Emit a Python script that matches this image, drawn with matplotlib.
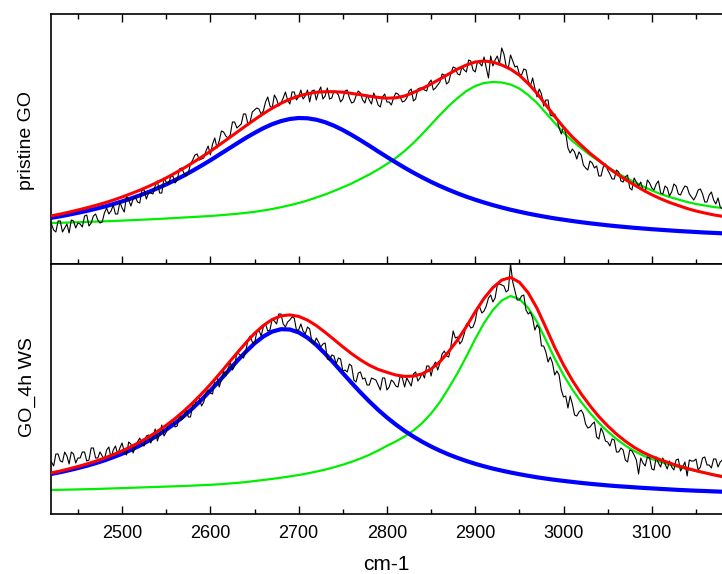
import numpy as np
import matplotlib
matplotlib.use("Agg")
import matplotlib.pyplot as plt

plt.rcParams['font.family'] = ['Liberation Sans', 'DejaVu Sans']

# Raman shift grids (cm-1)
wn_fit = np.arange(2420, 3181, 10)
wn_raw = np.arange(2420, 3181, 2.5)

# ---- pristine GO ----
# fitted bands and envelope (a.u.), every 10 cm-1
top_blue = [46.2, 47.7, 49.4, 51.2, 53.1, 55.2, 57.4, 59.9, 62.6, 65.5,
            68.6, 72.0, 75.7, 79.6, 83.9, 88.4, 93.3, 98.4, 103.7, 109.3,
            114.9, 120.5, 126.0, 131.1, 135.8, 139.8, 142.9, 145.0, 146.0, 145.7,
            144.3, 141.8, 138.3, 134.0, 129.1, 123.8, 118.3, 112.6, 107.0, 101.6,
            96.3, 91.3, 86.6, 82.1, 78.0, 74.2, 70.6, 67.3, 64.3, 61.5,
            58.9, 56.5, 54.3, 52.3, 50.4, 48.7, 47.1, 45.6, 44.3, 43.0,
            41.8, 40.7, 39.7, 38.7, 37.8, 37.0, 36.2, 35.5, 34.8, 34.2,
            33.6, 33.0, 32.5, 32.0, 31.5, 31.1, 30.7]
top_green = [41.0, 41.2, 41.5, 41.8, 42.1, 42.4, 42.7, 43.0, 43.4, 43.8,
             44.2, 44.6, 45.0, 45.5, 46.0, 46.5, 47.0, 47.5, 48.0, 48.7,
             49.4, 50.2, 51.1, 52.2, 53.5, 55.0, 56.8, 58.8, 61.0, 63.5,
             66.5, 69.5, 73.0, 76.7, 80.5, 85.0, 89.5, 94.5, 100.0, 106.0,
             113.0, 121.0, 130.0, 139.5, 149.0, 158.0, 166.0, 173.0, 178.0, 181.0,
             182.0, 181.5, 179.5, 175.5, 169.0, 161.0, 151.0, 141.0, 131.5, 123.0,
             116.0, 109.0, 103.0, 97.0, 91.5, 86.5, 82.0, 77.5, 73.5, 70.0,
             67.0, 64.5, 62.0, 60.0, 58.5, 57.0, 56.0]
top_red = [48.2, 49.9, 51.9, 54.0, 56.2, 58.6, 61.1, 63.9, 67.0, 70.3,
           73.8, 77.6, 81.7, 86.1, 90.9, 95.9, 101.3, 106.9, 112.7, 119.0,
           125.3, 131.7, 138.1, 144.3, 150.3, 155.8, 160.7, 164.8, 168.0, 170.2,
           171.8, 172.3, 172.3, 171.8, 170.6, 169.3, 167.8, 166.6, 165.8, 166.2,
           168.0, 171.5, 175.5, 180.0, 185.0, 190.0, 195.0, 199.0, 202.0, 203.0,
           201.9, 199.0, 194.8, 188.8, 180.4, 170.7, 159.1, 147.6, 136.8, 127.0,
           118.8, 110.7, 103.7, 96.7, 90.3, 84.5, 79.2, 74.0, 69.3, 65.2,
           61.6, 58.5, 55.5, 53.0, 51.0, 49.1, 47.7]
# measured spectrum: points at 2420, 2425, ... and at 2422.5, 2427.5, ...
top_raw_a = [40, 32, 43, 36, 31, 43, 41, 37, 49, 41,
             50, 41, 51, 50, 59, 50, 56, 68, 58, 67,
             61, 74, 71, 70, 83, 71, 82, 87, 81, 95,
             91, 91, 104, 110, 105, 113, 109, 126, 123, 132,
             126, 142, 136, 140, 150, 142, 154, 155, 153, 167,
             156, 165, 161, 172, 160, 172, 167, 165, 174, 173,
             164, 177, 168, 165, 173, 169, 165, 174, 161, 168,
             171, 161, 164, 171, 159, 167, 162, 159, 171, 167,
             163, 173, 163, 175, 176, 173, 184, 176, 182, 189,
             182, 197, 190, 197, 192, 203, 192, 201, 207, 186,
             198, 208, 216, 198, 209, 197, 190, 195, 183, 186,
             167, 170, 164, 149, 150, 136, 137, 116, 115, 105,
             109, 96, 103, 96, 88, 97, 94, 85, 94, 83,
             87, 76, 86, 78, 74, 84, 76, 80, 71, 78,
             68, 80, 70, 74, 77, 67, 68, 75, 62, 69,
             64, 66, 55]
top_raw_b = [34, 43, 32, 40, 44, 36, 40, 48, 38, 48,
             44, 42, 56, 53, 50, 62, 52, 64, 65, 62,
             74, 65, 71, 78, 71, 86, 80, 88, 84, 96,
             88, 100, 109, 104, 106, 118, 120, 116, 133, 128,
             129, 142, 138, 150, 140, 152, 156, 150, 162, 158,
             169, 158, 166, 164, 172, 164, 174, 168, 162, 174,
             172, 165, 176, 166, 172, 162, 173, 166, 162, 173,
             164, 169, 160, 166, 157, 170, 162, 166, 170, 162,
             166, 175, 165, 176, 174, 181, 174, 179, 190, 180,
             191, 196, 189, 194, 204, 194, 202, 198, 196, 208,
             204, 200, 210, 196, 203, 198, 189, 194, 178, 176,
             175, 158, 164, 148, 145, 130, 131, 111, 112, 112,
             99, 94, 101, 98, 88, 100, 90, 85, 92, 82,
             89, 74, 82, 82, 72, 81, 74, 83, 70, 76,
             72, 78, 69, 78, 70, 64, 74, 70, 62, 72,
             60, 57]

# ---- GO_4h WS ----
bot_blue = [40.1, 41.8, 43.8, 45.9, 48.2, 50.8, 53.6, 56.8, 60.2, 64.1,
            68.4, 73.2, 78.5, 84.3, 90.8, 98.0, 105.8, 114.3, 123.4, 133.0,
            142.9, 152.7, 162.1, 170.6, 177.5, 182.4, 184.8, 184.5, 181.6, 176.3,
            169.0, 160.3, 150.8, 140.9, 131.1, 121.6, 112.6, 104.2, 96.5, 89.5,
            83.1, 77.4, 72.2, 67.5, 63.3, 59.5, 56.1, 53.0, 50.2, 47.7,
            45.4, 43.4, 41.5, 39.8, 38.2, 36.7, 35.4, 34.2, 33.1, 32.1,
            31.1, 30.2, 29.4, 28.6, 27.9, 27.3, 26.7, 26.1, 25.6, 25.1,
            24.6, 24.1, 23.7, 23.3, 23.0, 22.6, 22.3]
bot_green = [24.0, 24.2, 24.4, 24.6, 24.8, 25.0, 25.3, 25.6, 25.9, 26.2,
             26.5, 26.8, 27.1, 27.4, 27.7, 28.0, 28.4, 28.8, 29.2, 29.7,
             30.4, 31.1, 31.9, 33.0, 34.0, 35.1, 36.3, 37.6, 39.0, 40.6,
             42.4, 44.4, 46.7, 49.3, 52.2, 55.5, 59.2, 63.4, 68.2, 72.5,
             77.5, 83.5, 91.0, 100.5, 112.0, 126.0, 141.0, 157.5, 175.0, 191.0,
             204.0, 213.5, 218.0, 215.0, 206.0, 192.0, 174.0, 155.5, 139.0, 124.5,
             112.0, 101.0, 91.0, 82.5, 75.0, 68.5, 63.0, 58.5, 55.0, 52.0,
             49.5, 47.0, 45.0, 43.0, 41.2, 39.5, 38.0]
bot_red = [41.1, 43.0, 45.2, 47.5, 50.0, 52.8, 55.9, 59.4, 63.1, 67.3,
           71.9, 77.0, 82.6, 88.7, 95.5, 103.0, 111.2, 120.1, 129.6, 139.7,
           150.3, 160.8, 171.0, 180.6, 188.5, 194.5, 198.1, 199.1, 197.6, 193.9,
           188.4, 181.7, 174.5, 167.2, 160.3, 154.1, 148.8, 144.6, 141.7, 139.0,
           137.6, 137.9, 140.2, 145.0, 152.3, 162.5, 174.1, 187.5, 202.2, 215.7,
           226.4, 233.9, 236.5, 231.8, 221.2, 205.7, 186.4, 166.7, 149.1, 133.6,
           120.1, 108.2, 97.4, 88.1, 79.9, 72.8, 66.7, 61.6, 57.6, 54.1,
           51.1, 48.1, 45.7, 43.3, 41.2, 39.1, 37.3]
bot_raw_a = [52, 60, 53, 62, 50, 60, 56, 62, 53, 66,
             56, 62, 55, 67, 64, 60, 71, 59, 70, 67,
             76, 68, 79, 77, 73, 89, 82, 90, 87, 100,
             97, 97, 109, 117, 108, 121, 121, 134, 127, 143,
             145, 144, 161, 158, 162, 178, 170, 184, 187, 183,
             195, 190, 200, 187, 194, 196, 184, 183, 187, 172,
             176, 167, 171, 154, 158, 156, 143, 142, 148, 132,
             142, 136, 129, 135, 129, 136, 124, 134, 128, 138,
             127, 132, 140, 133, 141, 148, 138, 152, 151, 163,
             157, 183, 177, 173, 190, 186, 193, 207, 203, 216,
             212, 229, 229, 222, 250, 223, 214, 219, 200, 196,
             189, 168, 162, 157, 139, 139, 117, 106, 110, 98,
             104, 90, 87, 92, 75, 81, 72, 75, 62, 66,
             54, 64, 59, 40, 51, 57, 45, 57, 47, 50,
             53, 44, 55, 47, 38, 53, 55, 47, 57, 49,
             55, 47, 54]
bot_raw_b = [48, 60, 52, 58, 62, 51, 56, 62, 54, 66,
             56, 58, 64, 56, 68, 66, 62, 72, 61, 72,
             69, 78, 71, 85, 80, 78, 90, 94, 88, 94,
             106, 97, 109, 116, 112, 124, 120, 138, 134, 138,
             152, 148, 160, 156, 174, 172, 182, 178, 190, 184,
             193, 200, 190, 192, 197, 184, 190, 180, 185, 170,
             172, 170, 155, 159, 150, 155, 144, 150, 134, 141,
             135, 129, 136, 134, 124, 136, 127, 132, 127, 136,
             136, 128, 142, 136, 136, 148, 148, 144, 160, 158,
             168, 176, 170, 180, 190, 187, 205, 201, 208, 219,
             216, 230, 228, 224, 232, 214, 218, 204, 202, 184,
             186, 168, 152, 151, 143, 124, 118, 118, 99, 102,
             100, 86, 90, 77, 86, 73, 68, 74, 62, 64,
             52, 63, 54, 56, 48, 56, 44, 51, 56, 45,
             47, 54, 43, 52, 54, 53, 44, 56, 49, 46,
             55, 52]


def merge(a, b):
    out = np.empty(len(a) + len(b))
    out[0::2] = a
    out[1::2] = b
    return out


panels = [
    ("pristine GO", top_blue, top_green, top_red, merge(top_raw_a, top_raw_b)),
    ("GO_4h WS", bot_blue, bot_green, bot_red, merge(bot_raw_a, bot_raw_b)),
]

fig = plt.figure(figsize=(7.22, 5.74), dpi=100)
ax_top = fig.add_axes([51 / 722, 1 - 264 / 574, 1 - 51 / 722, 250 / 574])
ax_bot = fig.add_axes([51 / 722, 1 - 514 / 574, 1 - 51 / 722, 250 / 574])

for ax, (name, blue, green, red, raw) in zip([ax_top, ax_bot], panels):
    ax.plot(wn_fit, green, color='#00ee00', lw=1.6, zorder=2)
    ax.plot(wn_fit, blue, color='#0000ff', lw=3.0, zorder=3)
    ax.plot(wn_raw, raw, color='black', lw=0.8, zorder=4, clip_on=False)
    ax.plot(wn_fit, red, color='#ff0000', lw=2.2, zorder=5)
    ax.set_xlim(2419.5, 3179.5)
    ax.set_ylim(0, 250)
    ax.set_yticks([])
    ax.spines['right'].set_visible(False)
    for s in ['left', 'top', 'bottom']:
        ax.spines[s].set_linewidth(1.2)
    ax.set_xticks(np.arange(2500, 3101, 100))
    ax.set_xticks(np.arange(2450, 3151, 100), minor=True)
    ax.tick_params(axis='x', which='major', direction='in', length=5.5, width=1.0,
                   labelsize=13, pad=8)
    ax.tick_params(axis='x', which='minor', direction='in', length=3.5, width=1.0)

ax_top.tick_params(axis='x', which='both', top=True, bottom=True, labelbottom=False)
ax_bot.tick_params(axis='x', which='both', top=False, bottom=True)

fig.text(27 / 722, 1 - 140 / 574, "pristine GO", rotation=90, ha='center', va='center', fontsize=14)
fig.text(27 / 722, 1 - 387 / 574, "GO_4h WS", rotation=90, ha='center', va='center', fontsize=14)
fig.text(386 / 722, 1 - 565 / 574, "cm-1", ha='center', va='center', fontsize=15)

fig.savefig("out.png", dpi=100)
